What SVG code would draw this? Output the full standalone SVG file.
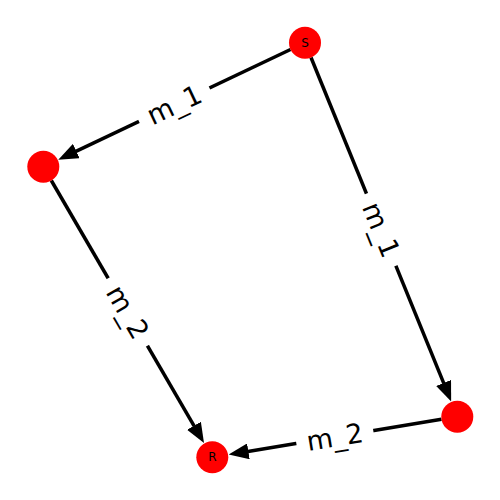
<svg xmlns="http://www.w3.org/2000/svg" width="500" height="500" viewBox="0 0 500 500">
<style>
.edge{stroke:#000;stroke-width:3.5;fill:none;marker-end:url(#ah)}
.node{fill:#ff0000}
.nlab{font-family:"DejaVu Sans",sans-serif;font-size:12px;fill:#000;text-anchor:middle;dominant-baseline:central}
.elab{font-family:"DejaVu Sans",sans-serif;font-size:27px;fill:#000;text-anchor:middle;dominant-baseline:central}
.ebox{fill:#fff}
</style>
<defs>
<marker id="ah" markerUnits="userSpaceOnUse" markerWidth="20" markerHeight="16" viewBox="0 0 20 16" refX="0.5" refY="8" orient="auto">
<path d="M0,0 L20,8 L0,16 z" fill="#000"/>
</marker>
</defs>
<rect width="500" height="500" fill="#fff"/>
<g id="connectors">
<line class="edge" x1="290.5" y1="49.5" x2="75.9" y2="151.3"/>
<line class="edge" x1="311.0" y1="57.5" x2="443.8" y2="383.4"/>
<line class="edge" x1="51.3" y1="180.5" x2="194.2" y2="426.2"/>
<line class="edge" x1="441.5" y1="419.3" x2="247.9" y2="451.4"/>
<g transform="translate(174.2,104.7) rotate(-25.4)"><rect class="ebox" x="-39" y="-20" width="78" height="40" rx="6"/><text class="elab" x="0" y="0">m_1</text></g>
<g transform="translate(381.2,229.7) rotate(67.8)"><rect class="ebox" x="-39" y="-20" width="78" height="40" rx="6"/><text class="elab" x="0" y="0">m_1</text></g>
<g transform="translate(127.8,312) rotate(59.8)"><rect class="ebox" x="-39" y="-20" width="78" height="40" rx="6"/><text class="elab" x="0" y="0">m_2</text></g>
<g transform="translate(334.8,437) rotate(-9.4)"><rect class="ebox" x="-39" y="-20" width="78" height="40" rx="6"/><text class="elab" x="0" y="0">m_2</text></g>
</g>
<g id="S"><circle class="node" cx="305" cy="42.7" r="16"/><text class="nlab" x="305" y="42.7">S</text></g>
<g id="n1"><circle class="node" cx="43.3" cy="166.7" r="16"/></g>
<g id="n2"><circle class="node" cx="457.3" cy="416.7" r="16"/></g>
<g id="R"><circle class="node" cx="212.3" cy="457.3" r="16"/><text class="nlab" x="212.3" y="457.3">R</text></g>
</svg>
